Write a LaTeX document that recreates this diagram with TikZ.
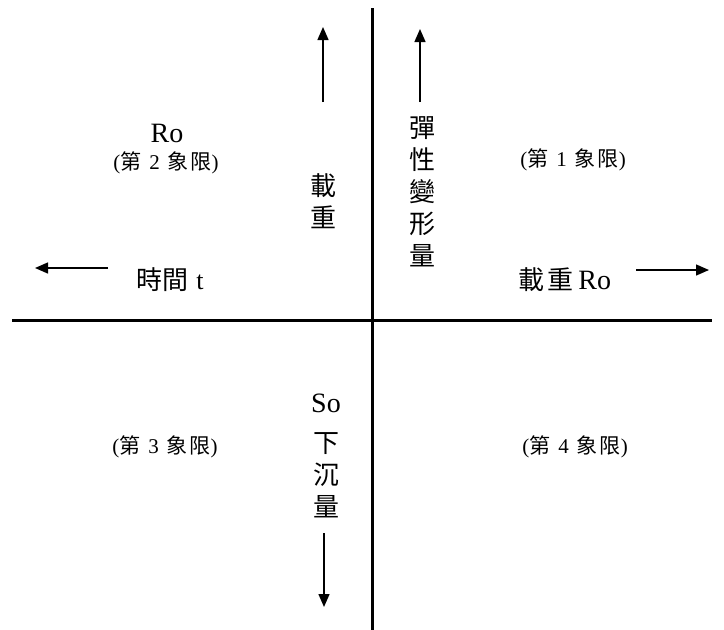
\documentclass[tikz,border=0pt]{standalone}
\usepackage{fontspec}
\setmainfont{Liberation Serif}
\newfontfamily\cjk{Noto Sans CJK TC}
\usetikzlibrary{arrows.meta}
\newcommand{\qsp}{\hspace{8pt}}
\newcommand{\quadlbl}[1]{({\cjk 第}\qsp #1\qsp{\cjk 象\hspace{2pt}限})}
\begin{document}
\begin{tikzpicture}[x=1pt,y=-1pt,
  axis/.style={line width=3pt},
  arr/.style={line width=1.4pt,-{Triangle[length=13pt,width=11pt]}},
  big/.style={inner sep=0pt,font=\fontsize{26}{32}\selectfont\cjk,align=center},
  latin/.style={inner sep=0pt,font=\fontsize{28}{32}\selectfont},
  quad/.style={inner sep=0pt,font=\fontsize{21}{24}\selectfont}]
\useasboundingbox (0,0) rectangle (724,630);
% axes
\coordinate (vt) at (372,8);
\coordinate (vb) at (372,630);
\coordinate (hl) at (12,320);
\coordinate (hr) at (712,320);
\draw[axis] (vt) -- (vb);
\draw[axis] (hl) -- (hr);
% arrows
\coordinate (a1s) at (323,102); \coordinate (a1e) at (323,27);
\coordinate (a2s) at (420,102); \coordinate (a2e) at (420,29);
\coordinate (a3s) at (108,268); \coordinate (a3e) at (35,268);
\coordinate (a4s) at (636,270); \coordinate (a4e) at (709,270);
\coordinate (a5s) at (324,533); \coordinate (a5e) at (324,607);
\draw[arr] (a1s) -- (a1e);
\draw[arr] (a2s) -- (a2e);
\draw[arr] (a3s) -- (a3e);
\draw[arr] (a4s) -- (a4e);
\draw[arr] (a5s) -- (a5e);
% quadrant 2
\node[latin] (ro2) at (167,133) {Ro};
\node[quad] (q2) at (166,163) {\quadlbl{2}};
\node[big] (load2) at (323,201) {載\\重};
\node[big] (time) at (170,280) {時間\hspace{8pt}{\fontspec{Liberation Serif}t}};
% quadrant 1
\node[big] (elastic) at (422,192) {彈\\性\\變\\形\\量};
\node[quad] (q1) at (573,160) {\quadlbl{1}};
\node[big] (load1) at (565,280) {載\hspace{3pt}重{\fontspec{Liberation Serif}\fontsize{28}{32}\selectfont\,Ro}};
% quadrant 3/4
\node[latin] (so) at (326,403) {So};
\node[big] (sink) at (326,475) {下\\沉\\量};
\node[quad] (q3) at (165,447) {\quadlbl{3}};
\node[quad] (q4) at (575,447) {\quadlbl{4}};
\end{tikzpicture}
\end{document}
